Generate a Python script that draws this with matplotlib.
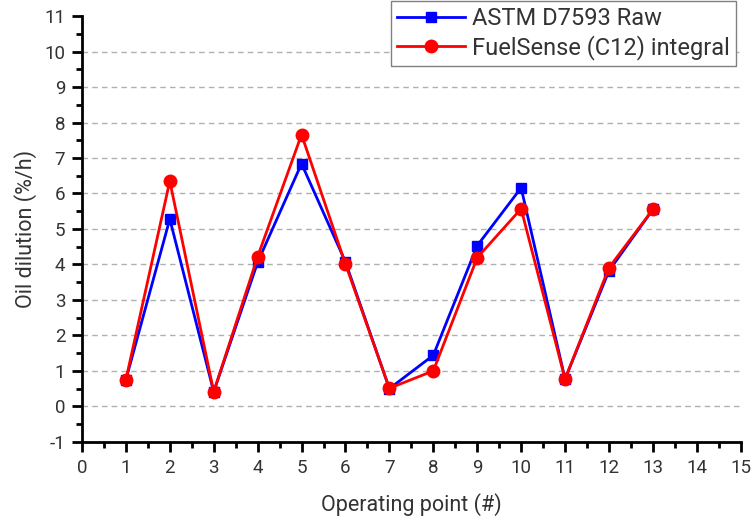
import matplotlib
matplotlib.use("Agg")
import matplotlib.pyplot as plt
from matplotlib.ticker import MultipleLocator

points = [1, 2, 3, 4, 5, 6, 7, 8, 9, 10, 11, 12, 13]
astm_raw = [0.75, 5.28, 0.41, 4.06, 6.84, 4.07, 0.50, 1.44, 4.53, 6.16, 0.77, 3.82, 5.55]
fuelsense = [0.75, 6.35, 0.41, 4.22, 7.66, 4.01, 0.51, 1.00, 4.19, 5.57, 0.77, 3.91, 5.55]
labels = ["ASTM D7593 Raw", "FuelSense (C12) integral"]

plt.rcParams['font.family'] = ['Roboto', 'DejaVu Sans']
plt.rcParams['axes.unicode_minus'] = False
txt = '#333333'

fig = plt.figure(figsize=(7.52, 5.18), dpi=100)
ax = fig.add_axes([0.109, 0.147, 0.876, 0.822])

ax.plot(points, astm_raw, color='#0000ff', lw=2, marker='s', ms=7.5, label=labels[0], zorder=3)
ax.plot(points, fuelsense, color='#ff0000', lw=2, marker='o', ms=9, label=labels[1], zorder=4)

ax.set_xlim(0, 15)
ax.set_ylim(-1, 11)
ax.xaxis.set_major_locator(MultipleLocator(1))
ax.xaxis.set_minor_locator(MultipleLocator(0.5))
ax.yaxis.set_major_locator(MultipleLocator(1))
ax.yaxis.set_minor_locator(MultipleLocator(0.5))

for y in range(0, 11):
    ax.axhline(y, color='#b0b0b0', lw=1, ls=(0, (4, 3)), zorder=1)

for s in ['top', 'right']:
    ax.spines[s].set_visible(False)
for s in ['left', 'bottom']:
    ax.spines[s].set_linewidth(2)
    ax.spines[s].set_color('black')

ax.tick_params(which='major', direction='out', length=7, width=2, labelsize=13.5, labelcolor=txt, pad=5)
ax.tick_params(which='minor', direction='out', length=4, width=2)

ax.set_xlabel("Operating point (#)", fontsize=15.5, color=txt, labelpad=12)
ax.set_ylabel("Oil dilution (%/h)", fontsize=15.5, color=txt, labelpad=5)

leg = ax.legend(loc='upper right', bbox_to_anchor=(0.993, 1.035), fontsize=17,
                frameon=True, fancybox=False, edgecolor='#808080', framealpha=1,
                borderpad=0.25, handlelength=2.9, labelspacing=0.2, handletextpad=0.3,
                borderaxespad=0)
leg.get_frame().set_linewidth(1)
for t in leg.get_texts():
    t.set_color(txt)

fig.savefig("out.png", dpi=100)
